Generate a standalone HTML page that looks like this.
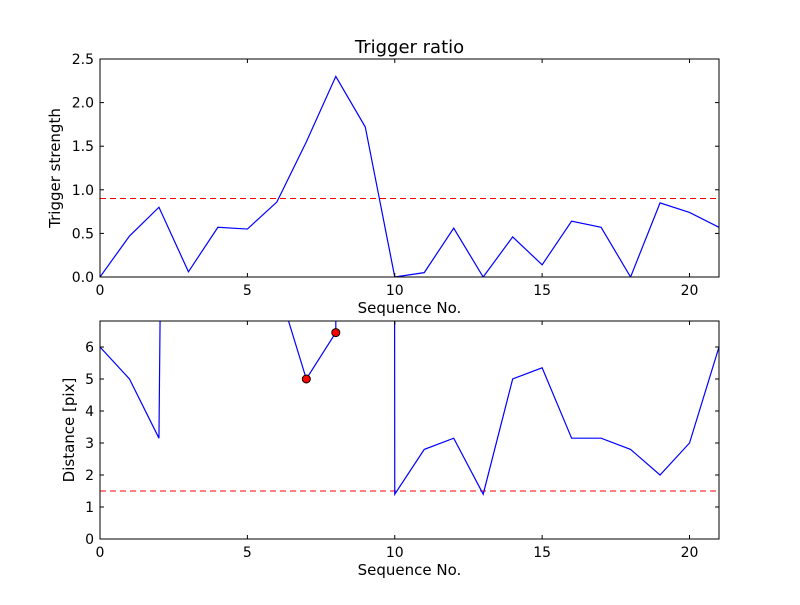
<!DOCTYPE html>
<html><head><meta charset="utf-8"><style>
body{margin:0;background:#fff}
svg text{font-family:"DejaVu Sans","Liberation Sans",sans-serif;fill:#000}
</style></head><body>
<svg id="fig" width="800" height="600" xmlns="http://www.w3.org/2000/svg">
<rect width="800" height="600" fill="#fff"/>
<g id="top"></g>
<g id="bot"></g>
</svg>
<script>
const seqNo = [0,1,2,3,4,5,6,7,8,9,10,11,12,13,14,15,16,17,18,19,20,21];
const triggerStrength = [0,0.47,0.80,0.06,0.57,0.55,0.86,1.55,2.30,1.72,0.0,0.05,0.56,0.0,0.46,0.14,0.64,0.57,0.0,0.85,0.74,0.57];
const triggerThreshold = 0.9;
const distance = [6.0,5.0,3.15,100,100,100,8.0,5.0,6.45,1000,1.4,2.8,3.15,1.4,5.0,5.35,3.15,3.15,2.8,2.0,3.0,6.0];
const distanceThreshold = 1.5;
const markedIdx = [7,8];
const topYTicks = ["0.0","0.5","1.0","1.5","2.0","2.5"];
const botYTicks = ["0","1","2","3","4","5","6"];
const xTicks = ["0","5","10","15","20"];

const NS="http://www.w3.org/2000/svg";
function mk(parent,tag,attrs,text){const e=document.createElementNS(NS,tag);for(const k in attrs)e.setAttribute(k,attrs[k]);if(text!==undefined)e.textContent=text;parent.appendChild(e);return e;}

function panel(g,cfg){
  const L=100,R=719,T=cfg.top,B=cfg.bottom;
  const sx=v=>L+(v-0)/(21-0)*(R-L);
  const sy=v=>B-(v-cfg.ymin)/(cfg.ymax-cfg.ymin)*(B-T);
  const cid='clip'+cfg.id;
  const defs=mk(g,'defs',{});const cp=mk(defs,'clipPath',{id:cid});mk(cp,'rect',{x:L,y:T,width:R-L,height:B-T});
  const th=mk(g,'line',{x1:L,x2:R,y1:sy(cfg.thr),y2:sy(cfg.thr),stroke:'#f00','stroke-dasharray':'6,4','clip-path':`url(#${cid})`});
  
  
  const pts=cfg.x.map((x,i)=>sx(x).toFixed(2)+','+sy(cfg.y[i]).toFixed(2)).join(' ');
  const pl=mk(g,'polyline',{points:pts,fill:'none',stroke:'#00f','stroke-width':1.2,'clip-path':`url(#${cid})`});
  
  
  (cfg.marks||[]).forEach(i=>{
    const c=mk(g,'circle',{cx:sx(cfg.x[i]),cy:sy(cfg.y[i]),r:4,fill:'#f00',stroke:'#000','stroke-width':1});
    
    
  });
  const fr=mk(g,'rect',{x:L,y:T,width:R-L,height:B-T,fill:'none',stroke:'#000','stroke-width':1});
  
  
  xTicks.forEach(t=>{const x=sx(+t);
    mk(g,'line',{x1:x,x2:x,y1:B,y2:B-4,stroke:'#000'});mk(g,'line',{x1:x,x2:x,y1:T,y2:T+4,stroke:'#000'});
    const tx=mk(g,'text',{x:x,y:B+18,'text-anchor':'middle','font-size':14},t);
    
    
  });
  cfg.yt.forEach(t=>{const y=sy(+t);
    mk(g,'line',{x1:L,x2:L+4,y1:y,y2:y,stroke:'#000'});mk(g,'line',{x1:R,x2:R-4,y1:y,y2:y,stroke:'#000'});
    const tx=mk(g,'text',{x:L-6,y:y+5,'text-anchor':'end','font-size':14},t);
    
    
  });
  const xl=mk(g,'text',{x:(L+R)/2,y:B+36,'text-anchor':'middle','font-size':15},'Sequence No.');
  
  
  const yl=mk(g,'text',{x:0,y:0,'text-anchor':'middle','font-size':15,transform:`translate(${cfg.ylx},${(T+B)/2}) rotate(-90)`},cfg.ylabel);
  
  
  if(cfg.title){const t=mk(g,'text',{x:(L+R)/2,y:T-6,'text-anchor':'middle','font-size':18},cfg.title);
    
    }
}
panel(document.getElementById('top'),{id:'a',top:59,bottom:277,ymin:0,ymax:2.5,x:seqNo,y:triggerStrength,thr:triggerThreshold,yt:topYTicks,ylabel:'Trigger strength',ylx:60,title:'Trigger ratio'});
panel(document.getElementById('bot'),{id:'b',top:321,bottom:539,ymin:0,ymax:6.8125,x:seqNo,y:distance,thr:distanceThreshold,yt:botYTicks,ylabel:'Distance [pix]',ylx:74,marks:markedIdx});
</script>
</body></html>
